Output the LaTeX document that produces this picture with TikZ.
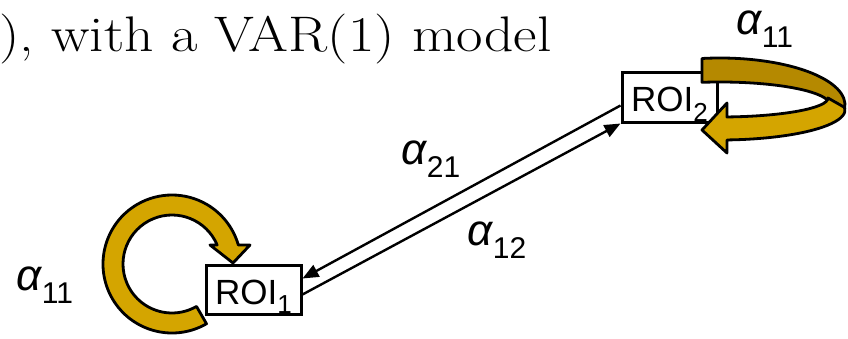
\documentclass[tikz,border=0pt]{standalone}
\usepackage{fontspec}
\newfontfamily\arialfont{Liberation Sans}
\usetikzlibrary{arrows.meta,calc}

\definecolor{goldlight}{RGB}{212,165,0}
\definecolor{golddark}{RGB}{181,137,0}

\tikzset{
  roibox/.style={draw, line width=3pt, fill=white, minimum width=95pt, minimum height=49pt,
    inner sep=0pt, text height=36pt, text depth=7pt, font=\arialfont\fontsize{35}{40}\selectfont},
  coef/.style={inner sep=0pt, font=\arialfont\itshape\fontsize{44}{48}\selectfont},
  loopband/.style={draw, line width=2.8pt, line join=round},
  link/.style={line width=2.4pt, -{Triangle[length=16pt,width=13pt]}}
}
\newcommand{\roi}[1]{ROI\raisebox{-9pt}{\fontsize{26}{26}\selectfont #1}}
\newcommand{\coefsub}[2]{#1\raisebox{-13pt}{\upshape\fontsize{30}{30}\selectfont #2}}

\begin{document}
\begin{tikzpicture}[x=1pt,y=1pt]
            \useasboundingbox (0,0) rectangle (848,338);

            \node[anchor=base west, inner sep=0pt, font=\fontsize{50}{60}\selectfont] (title) at (-1,286)
                {\scalebox{1.15}[1]{), with a VAR(1) model}};

            \node[roibox] (roi1) at (253.5,48.5) {\roi{1}};
            \node[roibox] (roi2) at (669.5,240.5) {\roi{2}};

            % self loop of ROI1
            \draw[loopband, fill=goldlight] (172,74) ++(-60:69) arc[start angle=-60, end angle=-344, radius=69]
                -- (250,93) -- (233,75) -- (210,93) -- ($(172,74)+(22.8:49)$)
                arc[start angle=22.8, end angle=300, radius=49] -- cycle;

            % self loop of ROI2
            \draw[loopband, fill=golddark] (720,233) ++(98.3:125 and 47)
                arc[start angle=98.3, end angle=-10, x radius=125, y radius=47]
                -- ($(720,233)+(0:110 and 23)$)
                arc[start angle=0, end angle=99.4, x radius=110, y radius=23] -- cycle;
            \draw[loopband, fill=goldlight] (720,240) ++(0:108 and 19)
                arc[start angle=0, end angle=-86.3, x radius=108, y radius=19]
                -- (727,235) -- (702,208) -- (727,185) -- ($(720,228)+(-86.8:125 and 30)$)
                arc[start angle=-86.8, end angle=5, x radius=125, y radius=30] -- cycle;

            \draw[link] ([yshift=-8pt]roi2.west) -- ([yshift=11pt]roi1.east);
            \draw[link] ([yshift=-5pt]roi1.east) -- (roi2.south west);

            \node[coef] (a21) at (431,179) {\coefsub{α}{21}};
            \node[coef] (a12) at (497,98) {\coefsub{α}{12}};
            \node[coef] (a11top) at (765,309) {\coefsub{α}{11}};
            \node[coef] (a11left) at (45,53) {\coefsub{α}{11}};
\end{tikzpicture}
\end{document}
